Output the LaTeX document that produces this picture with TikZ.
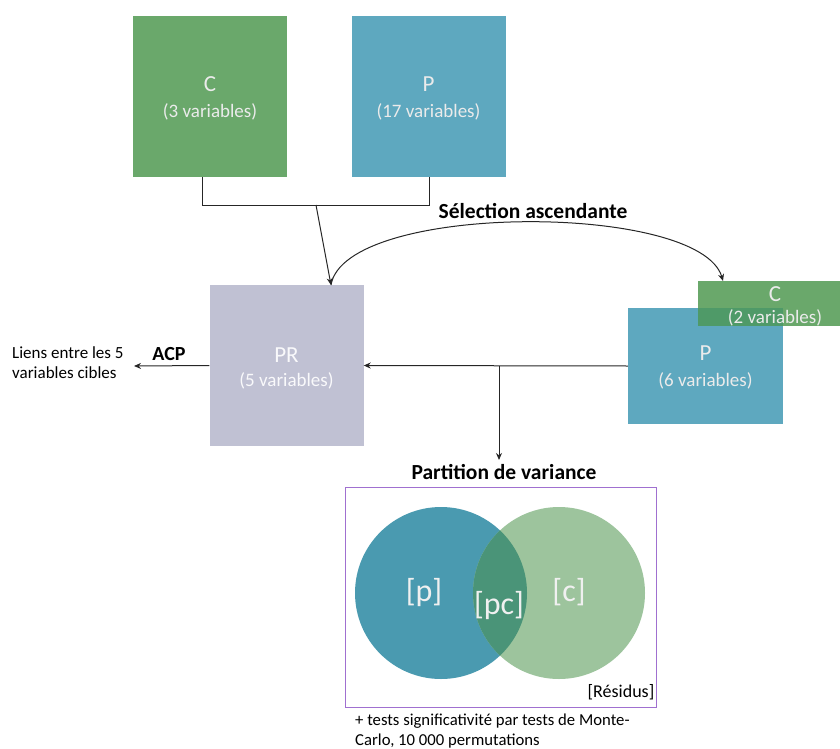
\documentclass[tikz,border=0pt]{standalone}
\usepackage{fontspec}
\setmainfont{Carlito}
\usetikzlibrary{arrows.meta}
\definecolor{cgreen}{HTML}{6AA86B}
\definecolor{pteal}{HTML}{5EA8BF}
\definecolor{prgray}{HTML}{C0C1D3}
\definecolor{ovgreen}{HTML}{4F9A68}
\definecolor{vblue}{HTML}{4A9AB0}
\definecolor{vgreen}{HTML}{9DC49D}
\definecolor{vover}{HTML}{4A9478}
\definecolor{vpurple}{HTML}{A070D0}
\begin{document}
\begin{tikzpicture}[x=1pt,y=-1pt,
  box/.style={draw=none,inner sep=0pt,minimum width=154pt,minimum height=161pt},
  big/.style={text=white!92!black,font=\fontsize{23}{27}\selectfont},
  small/.style={text=white!92!black,font=\fontsize{19}{22}\selectfont},
  conn/.style={line width=1pt,black!85},
  arr/.style={conn,-{Stealth[length=7pt,width=6pt]}},
  lbl/.style={font=\bfseries\fontsize{21.5}{25}\selectfont}]
\useasboundingbox (0,0) rectangle (840,749);
% top boxes
\node[box,fill=cgreen] (C) at (210,96.5) {};
\node[box,fill=pteal] (P) at (428.5,96.5) {};
\node[big] at (210,84) {C};
\node[small] at (210,112) {(3 variables)};
\node[big] at (428.5,84) {P};
\node[small] at (428.5,112) {(17 variables)};
% PR box
\node[box,fill=prgray] (PR) at (286.5,365.5) {};
\node[big,text=white!90!prgray] at (286.5,355) {PR};
\node[small,text=white!90!prgray] at (286.5,381) {(5 variables)};
% right boxes
\node[box,fill=pteal,minimum width=155pt,minimum height=116pt] (P2) at (705.5,366) {};
\node[box,fill=cgreen,minimum width=146pt,minimum height=45pt] (C2) at (771,303.5) {};
\fill[ovgreen] (698,308) rectangle (783,326);
\node[big] at (705.5,353) {P};
\node[small] at (705.5,381) {(6 variables)};
\node[big] at (775,294) {C};
\node[small] at (775,318) {(2 variables)};
% bracket
\coordinate (b1) at (202,205);
\coordinate (b2) at (429,205);
\coordinate (bm) at (316,205);
\draw[conn] (C.south -| b1) -- (b1) -- (b2) -- (P.south -| b2);
\coordinate (prtop) at (331,285);
\draw[arr] (bm) -- (prtop);
% selection curve
\coordinate (c2top) at (723,281);
\draw[arr] (prtop) .. controls (345,202) and (700,202) .. (c2top);
\node[lbl] (sel) at (533,211) {Sélection ascendante};
% horizontal line P2 -> PR
\draw[arr] (P2.west) -- (PR.east);
\coordinate (br) at (499,366);
\coordinate (pvt) at (499,460);
\draw[arr] (br) -- (pvt);
\node[lbl] (pv) at (504,472) {Partition de variance};
% ACP
\coordinate (acpend) at (134,366);
\draw[arr] (PR.west) -- (acpend);
\node[lbl,font=\bfseries\fontsize{20}{24}\selectfont] (acp) at (169,354) {ACP};
\node[align=left,anchor=west,font=\fontsize{17}{20}\selectfont,inner sep=0pt] (liens) at (12,363) {Liens entre les 5\\variables cibles};
% venn
\node[draw=vpurple,line width=0.6pt,minimum width=311pt,minimum height=220pt,inner sep=0pt] (frame) at (500.5,597) {};
\fill[vblue] (441,593) circle (86);
\fill[vgreen] (559,593) circle (86);
\begin{scope}
\clip (441,593) circle (86);
\fill[vover] (559,593) circle (86);
\end{scope}
\node[text=white!94!black,font=\fontsize{32}{36}\selectfont] (lp) at (424,593) {[p]};
\node[text=white!94!black,font=\fontsize{32}{36}\selectfont] (lpc) at (499,606) {[pc]};
\node[text=white!94!black,font=\fontsize{32}{36}\selectfont] (lc) at (569,592) {[c]};
\node[font=\fontsize{18}{20}\selectfont] (res) at (621,692) {[Résidus]};
\node[align=left,anchor=north west,inner sep=0pt,font=\fontsize{16.7}{19.5}\selectfont] (tests) at (355,714) {+ tests significativité par tests de Monte-\\Carlo, 10 000 permutations};
\end{tikzpicture}
\end{document}
